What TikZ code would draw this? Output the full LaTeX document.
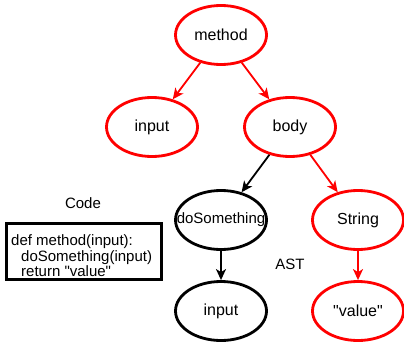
\documentclass[tikz,border=0pt]{standalone}
\usepackage{fontspec}
\setmainfont{Liberation Sans}[Ligatures=TeXOff]
\usetikzlibrary{shapes.geometric,arrows.meta}
\definecolor{ered}{RGB}{255,0,0}
\tikzset{
  ast/.style={ellipse,draw,line width=2.8pt,minimum width=91pt,minimum height=59pt,inner sep=0pt,font=\fontsize{16}{19}\selectfont},
  rednode/.style={ast,draw=ered},
  blacknode/.style={ast,draw=black},
  conn/.style={line width=1.8pt,-{Stealth[length=11pt,width=10pt,inset=3pt]}},
  label/.style={font=\fontsize{15}{18}\selectfont,inner sep=0pt}
}
\begin{document}
\begin{tikzpicture}[x=1pt,y=-1pt]
\useasboundingbox (0,0) rectangle (404,348);
\node[rednode] (method) at (221,35) {method};
\node[rednode] (input1) at (152,127) {input};
\node[rednode] (body) at (290,127) {body};
\node[blacknode,font=\fontsize{15}{18}\selectfont] (doit) at (221,220) {\makebox[40pt]{doSomething}};
\node[rednode] (string) at (358,220) {String};
\node[blacknode] (input2) at (221,311) {input};
\node[rednode] (value) at (358,311) {"value"};
\draw[conn,ered] (method) -- (input1);
\draw[conn,ered] (method) -- (body);
\draw[conn,black] (body) -- (doit);
\draw[conn,ered] (body) -- (string);
\draw[conn,black] (doit) -- (input2);
\draw[conn,ered] (string) -- (value);
\node[label] (code) at (83,203) {Code};
\node[label] (ast) at (290,264) {AST};
\node[draw,line width=2.8pt,minimum width=155pt,minimum height=56pt,inner sep=0pt] (box) at (84,251.5) {};
\node[label,anchor=west,align=left,font=\fontsize{15}{15.5}\selectfont] (src) at (11,256) {def method(input):\\\hspace{10pt}doSomething(input)\\\hspace{10pt}return "value"};
\end{tikzpicture}
\end{document}
